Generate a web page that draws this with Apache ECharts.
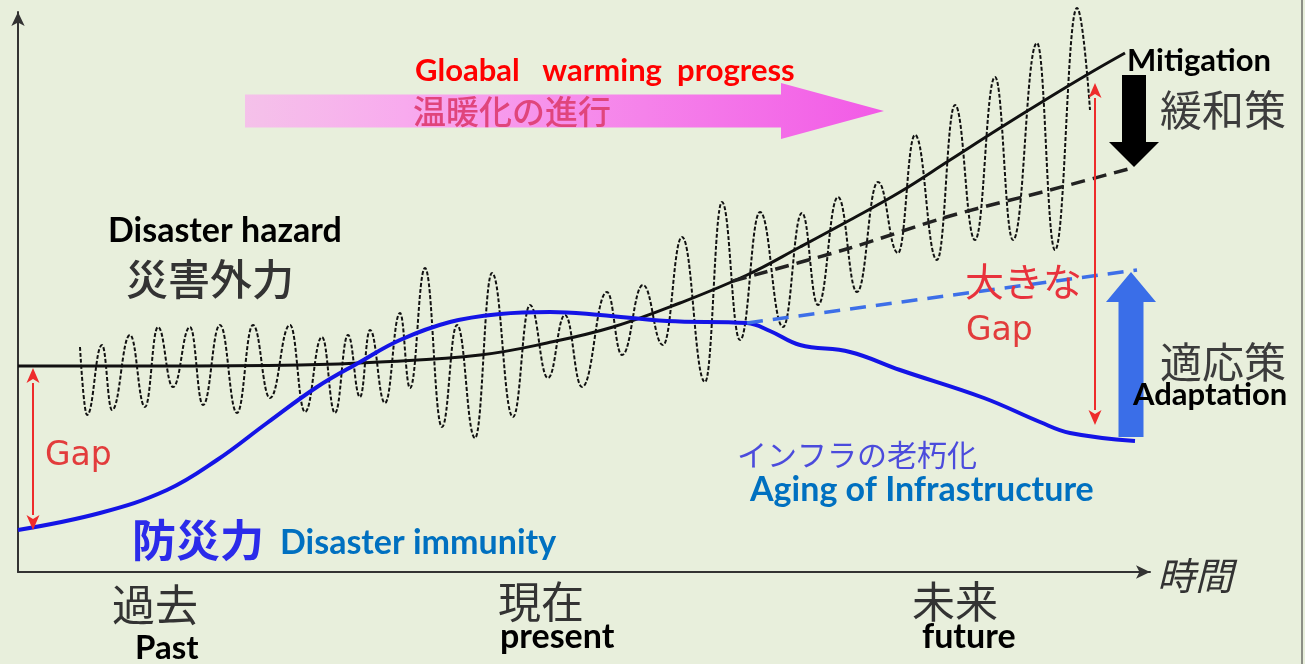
<!DOCTYPE html>
<html lang="ja">
<head>
<meta charset="UTF-8">
<title>災害外力と防災力</title>
<script src="https://cdn.jsdelivr.net/npm/echarts@6/dist/echarts.min.js"></script>
<style>
    html, body { margin: 0; padding: 0; background: #e8efdc; }
    #chart { width: 1305px; height: 664px; }
</style>
</head>
<body>
<div id="chart"></div>
<script>
    // 災害外力 (solid black, no mitigation)
    const hazardX = [0, 132, 282, 362, 462, 529, 595, 662, 729, 782, 832, 882, 932, 982, 1032, 1072, 1107];
    const hazardY = [206, 206, 207, 210, 217, 229, 245, 269, 297, 325, 352, 380, 412, 444, 475, 499, 519];

    // 緩和策あり (dashed black)
    const mitigatedX = [715, 832, 932, 1032, 1114];
    const mitigatedY = [291, 324, 356, 382, 404];

    // 防災力 (solid blue)
    const immunityX = [0, 82, 149, 199, 249, 299, 342, 382, 432, 482, 532, 582, 649, 729, 752, 782, 832, 882, 966, 1022, 1052, 1117];
    const immunityY = [42, 59, 82, 112, 149, 185, 210, 232, 250, 258, 260, 257, 251, 249, 241, 227, 220, 202, 174, 150, 139, 131];

    // 適応策あり (dashed blue)
    const adaptedX = [729, 1119];
    const adaptedY = [249, 302];

    // 外力の変動 (dotted wave, peaks and troughs)
    const waveX = [62, 69, 84, 94, 112, 127, 140, 155, 172, 185, 202, 219, 235, 252, 272, 287, 304, 317, 330, 342,
                   352, 367, 382, 392, 407, 424, 439, 457, 474, 495, 512, 530, 547, 564, 589, 604, 625, 645, 664, 687,
                   704, 722, 742, 765, 784, 800, 820, 839, 860, 880, 897, 919, 937, 957, 977, 995, 1019, 1037, 1059, 1072];
    const waveY = [225, 157, 227, 162, 237, 165, 245, 185, 245, 167, 247, 159, 247, 174, 247, 160, 235, 159, 237, 175,
                   242, 169, 259, 184, 304, 145, 247, 134, 299, 155, 267, 194, 257, 185, 280, 217, 287, 227, 335, 190,
                   370, 232, 360, 245, 359, 267, 375, 280, 390, 319, 437, 312, 467, 332, 495, 332, 529, 322, 564, 462];

    // arrows: [x0, y0, x1, y1]
    const warmingArrow = [[227, 461, 866, 461]];
    const mitigationArrow = [[1116, 497, 1116, 405]];
    const adaptationArrow = [[1113, 135, 1113, 300]];
    const gapArrows = [[15, 204, 15, 42], [1077, 489, 1077, 147]];

    function pairs(xs, ys) {
        return xs.map((x, i) => [x, ys[i]]);
    }

    function arrowPoints(p0, p1, shaft, head, headLen) {
        const dx = p1[0] - p0[0], dy = p1[1] - p0[1];
        const len = Math.sqrt(dx * dx + dy * dy);
        const ux = dx / len, uy = dy / len, nx = -uy, ny = ux;
        const bx = p1[0] - ux * headLen, by = p1[1] - uy * headLen;
        return [
            [p0[0] + nx * shaft, p0[1] + ny * shaft],
            [bx + nx * shaft, by + ny * shaft],
            [bx + nx * head, by + ny * head],
            [p1[0], p1[1]],
            [bx - nx * head, by - ny * head],
            [bx - nx * shaft, by - ny * shaft],
            [p0[0] - nx * shaft, p0[1] - ny * shaft]
        ];
    }

    function blockArrow(shaft, head, headLen, fill) {
        return function (params, api) {
            const p0 = api.coord([api.value(0), api.value(1)]);
            const p1 = api.coord([api.value(2), api.value(3)]);
            return {
                type: 'polygon',
                shape: { points: arrowPoints(p0, p1, shaft, head, headLen) },
                style: { fill: fill }
            };
        };
    }

    function doubleArrow(params, api) {
        const p0 = api.coord([api.value(0), api.value(1)]);
        const p1 = api.coord([api.value(2), api.value(3)]);
        const hl = 15, hw = 6.5;
        const dir = p1[1] > p0[1] ? 1 : -1;
        const red = '#ee2b2b';
        return {
            type: 'group',
            children: [
                {
                    type: 'line',
                    shape: { x1: p0[0], y1: p0[1] + dir * hl, x2: p1[0], y2: p1[1] - dir * hl },
                    style: { stroke: red, lineWidth: 2 }
                },
                {
                    type: 'polygon',
                    shape: { points: [[p0[0], p0[1]], [p0[0] - hw, p0[1] + dir * hl], [p0[0], p0[1] + dir * (hl - 4)], [p0[0] + hw, p0[1] + dir * hl]] },
                    style: { fill: red }
                },
                {
                    type: 'polygon',
                    shape: { points: [[p1[0], p1[1]], [p1[0] - hw, p1[1] - dir * hl], [p1[0], p1[1] - dir * (hl - 4)], [p1[0] + hw, p1[1] - dir * hl]] },
                    style: { fill: red }
                }
            ]
        };
    }

    const jp = '"Noto Sans CJK JP", sans-serif';
    const en = 'Lato, "Noto Sans", sans-serif';

    // text label at pixel position (left edge, vertical centre)
    function label(text, x, y, font, color) {
        return {
            type: 'text',
            x: x,
            y: y,
            z: 100,
            style: {
                text: text,
                fill: color,
                font: font,
                verticalAlign: 'middle'
            }
        };
    }

    const chart = echarts.init(document.getElementById('chart'));

    const option = {
        backgroundColor: '#e8efdc',
        animation: false,
        grid: { left: 18, right: 155, top: 12, bottom: 92 },
        xAxis: {
            type: 'value',
            min: 0,
            max: 1132,
            axisLine: {
                show: true,
                symbol: ['none', 'arrow'],
                symbolSize: [10, 14],
                lineStyle: { color: '#333', width: 2 }
            },
            axisTick: { show: false },
            axisLabel: { show: false },
            splitLine: { show: false }
        },
        yAxis: {
            type: 'value',
            min: 0,
            max: 560,
            axisLine: {
                show: true,
                symbol: ['none', 'arrow'],
                symbolSize: [10, 14],
                lineStyle: { color: '#333', width: 2 }
            },
            axisTick: { show: false },
            axisLabel: { show: false },
            splitLine: { show: false }
        },
        series: [
            {
                type: 'custom',
                name: '温暖化の進行',
                renderItem: blockArrow(16.5, 28, 103, {
                    type: 'linear', x: 0, y: 0, x2: 1, y2: 0,
                    colorStops: [
                        { offset: 0, color: 'rgba(249,178,238,0.75)' },
                        { offset: 0.25, color: '#f8aaee' },
                        { offset: 1, color: '#f25ae6' }
                    ]
                }),
                data: warmingArrow,
                z: 1
            },
            {
                type: 'line',
                name: '外力変動',
                data: pairs(waveX, waveY),
                smooth: 0.45,
                smoothMonotone: 'x',
                showSymbol: false,
                clip: false,
                lineStyle: { color: '#111', width: 2, type: [4, 2] },
                z: 2
            },
            {
                type: 'line',
                name: '災害外力',
                data: pairs(hazardX, hazardY),
                smooth: 0.4,
                showSymbol: false,
                lineStyle: { color: '#111', width: 3 },
                z: 3
            },
            {
                type: 'line',
                name: '緩和策',
                data: pairs(mitigatedX, mitigatedY),
                smooth: 0.3,
                showSymbol: false,
                lineStyle: { color: '#222', width: 3.5, type: [14, 8] },
                z: 3
            },
            {
                type: 'line',
                name: '防災力',
                data: pairs(immunityX, immunityY),
                smooth: 0.4,
                showSymbol: false,
                lineStyle: { color: '#1414e6', width: 4 },
                z: 4
            },
            {
                type: 'line',
                name: '適応策',
                data: pairs(adaptedX, adaptedY),
                showSymbol: false,
                lineStyle: { color: '#3d6fe8', width: 3.5, type: [16, 10] },
                z: 4
            },
            {
                type: 'custom',
                name: 'Gap',
                renderItem: doubleArrow,
                data: gapArrows,
                z: 5
            },
            {
                type: 'custom',
                name: '緩和策矢印',
                renderItem: blockArrow(12, 25, 25, '#000'),
                data: mitigationArrow,
                z: 6
            },
            {
                type: 'custom',
                name: '適応策矢印',
                renderItem: blockArrow(12.5, 25, 30, '#3a6ee8'),
                data: adaptationArrow,
                z: 6
            }
        ],
        graphic: [
            { type: 'line', shape: { x1: 1302, y1: 0, x2: 1302, y2: 664 }, style: { stroke: '#8c8f86', lineWidth: 2 }, z: 100 },
            label('Gloabal   warming  progress', 415, 71, 'bold 31px ' + en, '#ff0000'),
            label('温暖化の進行', 413, 111, '500 33px ' + jp, '#e0457c'),
            label('Disaster hazard', 108, 231, 'bold 34px ' + en, '#000'),
            label('災害外力', 126, 279, '500 42px ' + jp, '#333'),
            label('Mitigation', 1127, 61, 'bold 31px ' + en, '#000'),
            label('緩和策', 1160, 110, '42px ' + jp, '#3c3c3c'),
            label('大きな', 965, 281, '39px ' + jp, '#e8323c'),
            label('Gap', 966, 331, '33px "DejaVu Sans", sans-serif', '#e23c3c'),
            label('適応策', 1160, 362, '42px ' + jp, '#3c3c3c'),
            label('Adaptation', 1133, 395, 'bold 31px ' + en, '#000'),
            label('Gap', 45, 456, '33px "DejaVu Sans", sans-serif', '#e23c3c'),
            label('インフラの老朽化', 737, 455, '30px ' + jp, '#4b4bdc'),
            label('Aging of Infrastructure', 750, 490, 'bold 34px ' + en, '#0070c0'),
            label('防災力', 132, 540, 'bold 44px ' + jp, '#2b2bea'),
            label('Disaster immunity', 280, 543, 'bold 34px ' + en, '#0070c0'),
            label('過去', 112, 605, '43px ' + jp, '#333'),
            label('Past', 135, 648, 'bold 33px ' + en, '#000'),
            label('現在', 498, 602, '43px ' + jp, '#333'),
            label('present', 500, 637, 'bold 34px ' + en, '#000'),
            label('未来', 912, 602, '43px ' + jp, '#333'),
            label('future', 922, 637, 'bold 34px ' + en, '#000'),
            label('時間', 1157, 576, 'italic 38px ' + jp, '#333')
        ]
    };

    chart.setOption(option);

    window.addEventListener('resize', function () {
        chart.resize();
    });
</script>
</body>
</html>
